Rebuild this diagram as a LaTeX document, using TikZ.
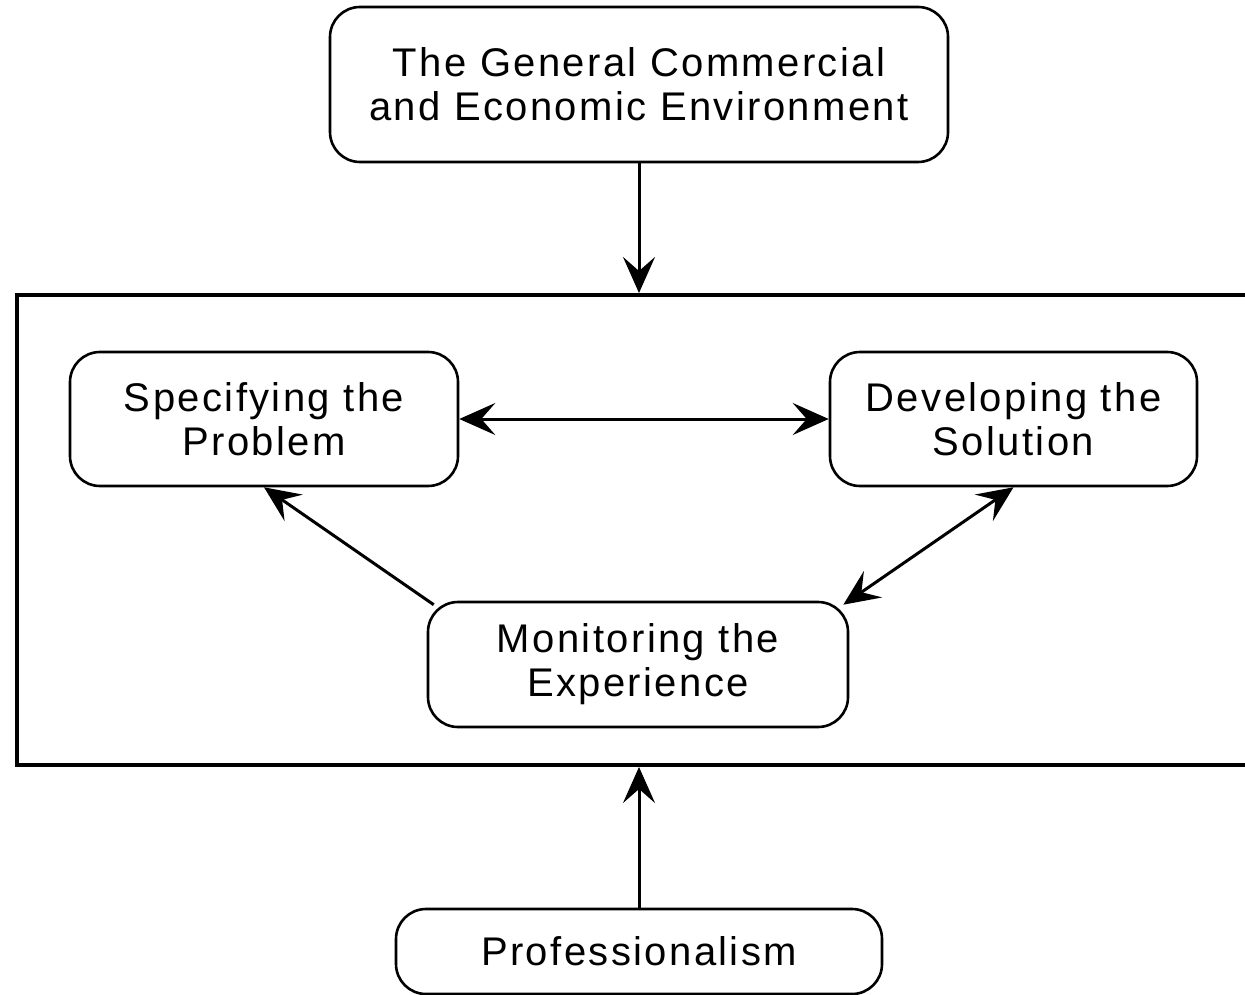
\documentclass[tikz,border=0pt]{standalone}
\usepackage{fontspec}
\setmainfont{Liberation Sans}[LetterSpace=6]
\usetikzlibrary{arrows.meta,calc}
\tikzset{myarrow/.tip={Stealth[length=18pt,width=16pt,inset=7pt]}}
\begin{document}
\begin{tikzpicture}[x=0.5pt,y=-0.5pt,
  box/.style={draw=black,line width=1.3pt,rounded corners=15pt,align=center,
    font=\fontsize{20}{22}\selectfont,inner sep=0pt},
  conn/.style={line width=1.5pt,-myarrow},
  dconn/.style={line width=1.5pt,myarrow-myarrow}]
\useasboundingbox (0,0) rectangle (1245,994);
\node[box,minimum width=309pt,minimum height=77.5pt] (top) at (639,84.5)
  {The General Commercial\\and Economic Environment};
\node[draw=black,line width=2pt,minimum width=640pt,minimum height=235pt,inner sep=0pt] (frame) at (657,530) {};
\node[box,minimum width=194pt,minimum height=67pt] (spec) at (264,419)
  {Specifying the\\Problem};
\node[box,minimum width=183.5pt,minimum height=67pt] (dev) at (1013.5,419)
  {Developing the\\Solution};
\node[box,minimum width=210pt,minimum height=62.5pt] (mon) at (638,664.5)
  {Monitoring the\\Experience};
\node[box,minimum width=243pt,minimum height=42.5pt] (prof) at (639,951.5)
  {Professionalism};
\draw[conn] (top.south) -- (top.south |- frame.north);
\draw[conn] (prof.north) -- (prof.north |- frame.south);
\draw[dconn] (spec.east) -- (dev.west);
\coordinate (monNW) at ($(mon.north west)+(7,4)$);
\coordinate (monNE) at ($(mon.north east)+(-6,4)$);
\draw[conn] (monNW) -- (spec.south);
\draw[dconn] (dev.south) -- (monNE);
\end{tikzpicture}
\end{document}
